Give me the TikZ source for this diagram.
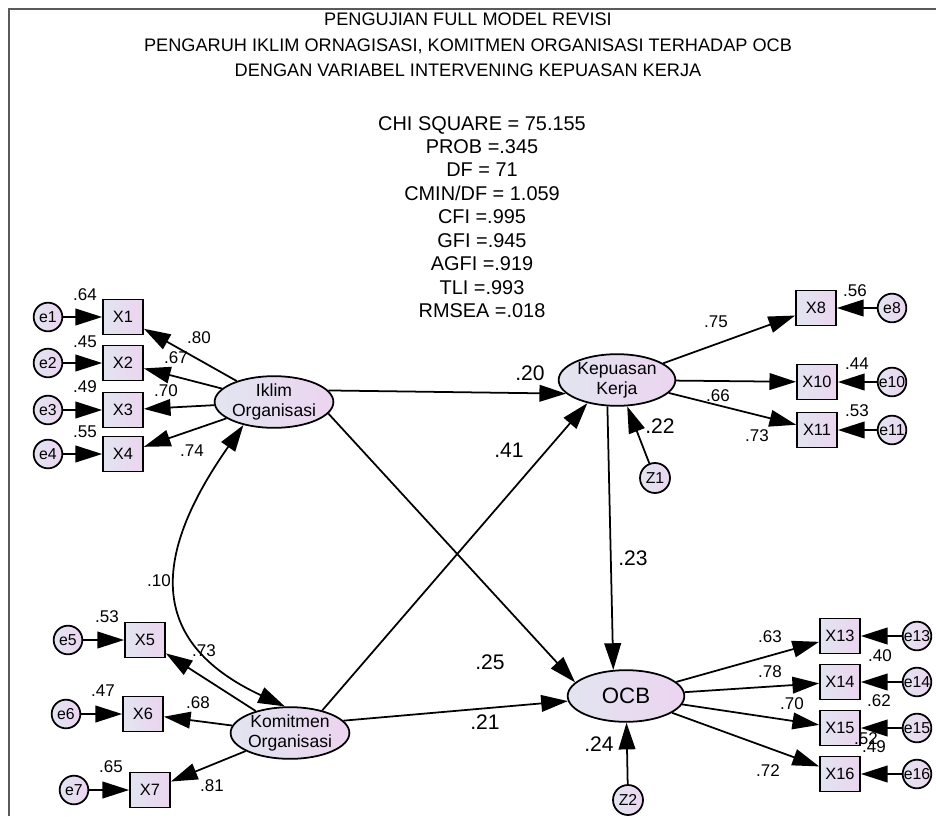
\documentclass[tikz,border=0pt]{standalone}
\usepackage{fontspec}
\setmainfont{Liberation Sans}
\usetikzlibrary{shapes.geometric, arrows.meta}

\definecolor{latL}{RGB}{226,229,240}
\definecolor{latR}{RGB}{236,212,240}
\definecolor{rahmen}{RGB}{90,90,90}

\begin{document}
\begin{tikzpicture}[
      x=0.03cm, y=-0.03cm,
      line width=1.5pt,
      grad/.style={left color=latL, right color=latR},
      ind/.style={draw, grad, minimum width=1.2cm, minimum height=1.05cm,
                  inner sep=0pt, font=\fontsize{14}{14}\selectfont},
      err/.style={draw, circle, grad, minimum size=0.86cm, inner sep=0pt,
                  font=\fontsize{13.5}{13}\selectfont},
      lat/.style={draw, ellipse, grad, minimum width=3.5cm, minimum height=1.55cm,
                  inner sep=0pt, align=center, font=\fontsize{15}{17}\selectfont},
      lbl/.style={font=\fontsize{14.5}{15}\selectfont, inner sep=0pt},
      coef/.style={font=\fontsize{18}{18}\selectfont, inner sep=0pt},
      flow/.style={-{Triangle[length=0.8cm, width=0.5cm]}},
      dbl/.style={{Triangle[length=0.8cm, width=0.5cm]}-{Triangle[length=0.8cm, width=0.5cm]}}
    ]
    \useasboundingbox (0,0) rectangle (936,816);
    \draw[rahmen, line width=1.6pt] (9,816) -- (9,9) -- (936,9);

    % Judul dan indeks kecocokan
    \node[align=center, font=\fontsize{15.5}{21.7}\selectfont] (judul) at (468,45)
      {PENGUJIAN FULL MODEL REVISI\\
       PENGARUH IKLIM ORNAGISASI, KOMITMEN ORGANISASI TERHADAP OCB\\
       DENGAN VARIABEL INTERVENING KEPUASAN KERJA};
    \node[align=center, font=\fontsize{17}{20}\selectfont] (indeks) at (482,217)
      {CHI SQUARE = 75.155\\ PROB =.345\\ DF = 71\\ CMIN/DF = 1.059\\ CFI =.995\\
       GFI =.945\\ AGFI =.919\\ TLI =.993\\ RMSEA =.018};

    % Iklim Organisasi
    \node[lat] (iklim) at (274,402) {Iklim\\Organisasi};
    \node[ind] (x1) at (123,317) {X1};
    \node[ind] (x2) at (123,363) {X2};
    \node[ind] (x3) at (123,410) {X3};
    \node[ind] (x4) at (123,454) {X4};
    \node[err] (e1) at (48,317) {e1};
    \node[err] (e2) at (48,363) {e2};
    \node[err] (e3) at (48,410) {e3};
    \node[err] (e4) at (48,454) {e4};

    % Komitmen Organisasi
    \node[lat] (komit) at (290,733) {Komitmen\\Organisasi};
    \node[ind] (x5) at (145,640) {X5};
    \node[ind] (x6) at (143,714) {X6};
    \node[ind] (x7) at (150,790) {X7};
    \node[err] (e5) at (68,640) {e5};
    \node[err] (e6) at (66,714) {e6};
    \node[err] (e7) at (74,790) {e7};

    % Kepuasan Kerja
    \node[lat] (kepuasan) at (617,380) {Kepuasan\\Kerja};
    \node[err, minimum size=0.9cm] (z1) at (655,478) {Z1};
    \node[ind] (x8) at (816,308) {X8};
    \node[ind] (x10) at (817,382) {X10};
    \node[ind] (x11) at (817,430) {X11};
    \node[err] (e8) at (892,308) {e8};
    \node[err] (e10) at (892,382) {e10};
    \node[err] (e11) at (892,430) {e11};

    % OCB
    \node[lat, font=\fontsize{19}{20}\selectfont] (ocb) at (626,696) {OCB};
    \node[err, minimum size=0.9cm] (z2) at (628,800) {Z2};
    \node[ind] (x13) at (840,636) {X13};
    \node[ind] (x14) at (840,682) {X14};
    \node[ind] (x15) at (840,728) {X15};
    \node[ind] (x16) at (840,774) {X16};
    \node[err] (e13) at (917,636) {e13};
    \node[err] (e14) at (917,682) {e14};
    \node[err] (e15) at (917,728) {e15};
    \node[err] (e16) at (917,774) {e16};

    % error ke indikator
    \draw[flow] (e1) -- (x1);
    \draw[flow] (e2) -- (x2);
    \draw[flow] (e3) -- (x3);
    \draw[flow] (e4) -- (x4);
    \draw[flow] (e5) -- (x5);
    \draw[flow] (e6) -- (x6);
    \draw[flow] (e7) -- (x7);
    \draw[flow] (e8) -- (x8);
    \draw[flow] (e10) -- (x10);
    \draw[flow] (e11) -- (x11);
    \draw[flow] (e13) -- (x13);
    \draw[flow] (e14) -- (x14);
    \draw[flow] (e15) -- (x15);
    \draw[flow] (e16) -- (x16);

    % loading
    \draw[flow] (iklim) -- (x1);
    \draw[flow] (iklim) -- (x2);
    \draw[flow] (iklim) -- (x3);
    \draw[flow] (iklim) -- (x4);
    \draw[flow] (komit) -- (x5);
    \draw[flow] (komit) -- (x6);
    \draw[flow] (komit) -- (x7);
    \draw[flow] (kepuasan) -- (x8);
    \draw[flow] (kepuasan) -- (x10);
    \draw[flow] (kepuasan) -- (x11);
    \draw[flow] (ocb) -- (x13);
    \draw[flow] (ocb) -- (x14);
    \draw[flow] (ocb) -- (x15);
    \draw[flow] (ocb) -- (x16);

    % model struktural
    \draw[flow] (iklim.12) -- (kepuasan.195);
    \draw[flow] (iklim.348) -- (ocb.165);
    \draw[flow] (komit.35) -- (kepuasan.218);
    \draw[flow] (komit.13) -- (ocb.185);
    \draw[flow] (kepuasan.250) -- (ocb.116);
    \draw[flow] (z1) -- (kepuasan);
    \draw[flow] (z2) -- (ocb);
    \draw[dbl] (iklim.217) to[out=235, in=155, looseness=1.4] (komit.101);

    % bobot
    \node[lbl] (v1) at (85,295) {.64};
    \node[lbl] (v2) at (85,342) {.45};
    \node[lbl] (v3) at (85,387) {.49};
    \node[lbl] (v4) at (85,432) {.55};
    \node[lbl] (l1) at (199,338) {.80};
    \node[lbl] (l2) at (176,358) {.67};
    \node[lbl] (l3) at (166,391) {.70};
    \node[lbl] (l4) at (192,451) {.74};
    \node[lbl] (kor) at (159,581) {.10};
    \node[lbl] (v5) at (107,617) {.53};
    \node[lbl] (v6) at (103,691) {.47};
    \node[lbl] (v7) at (111,767) {.65};
    \node[lbl] (l5) at (204,651) {.73};
    \node[lbl] (l6) at (198,703) {.68};
    \node[lbl] (l7) at (212,786) {.81};
    \node[lbl] (v8) at (855,291) {.56};
    \node[lbl] (l8) at (716,322) {.75};
    \node[lbl] (v10) at (857,364) {.44};
    \node[lbl] (l10) at (718,396) {.66};
    \node[lbl] (v11) at (857,411) {.53};
    \node[lbl] (l11) at (757,436) {.73};
    \node[lbl] (v13) at (880,656) {.40};
    \node[lbl] (l13) at (770,637) {.63};
    \node[lbl] (v14) at (879,701) {.62};
    \node[lbl] (l14) at (770,672) {.78};
    \node[lbl] (v15) at (866,739) {.52};
    \node[lbl] (l15) at (792,704) {.70};
    \node[lbl] (v16) at (874,747) {.49};
    \node[lbl] (l16) at (768,771) {.72};
    \node[coef] (p1) at (530,373) {.20};
    \node[coef] (p2) at (509,450) {.41};
    \node[coef] (p3) at (633,558) {.23};
    \node[coef] (p4) at (490,662) {.25};
    \node[coef] (p5) at (485,722) {.21};
    \node[coef] (r1) at (660,426) {.22};
    \node[coef] (r2) at (599,744) {.24};
  \end{tikzpicture}
\end{document}
